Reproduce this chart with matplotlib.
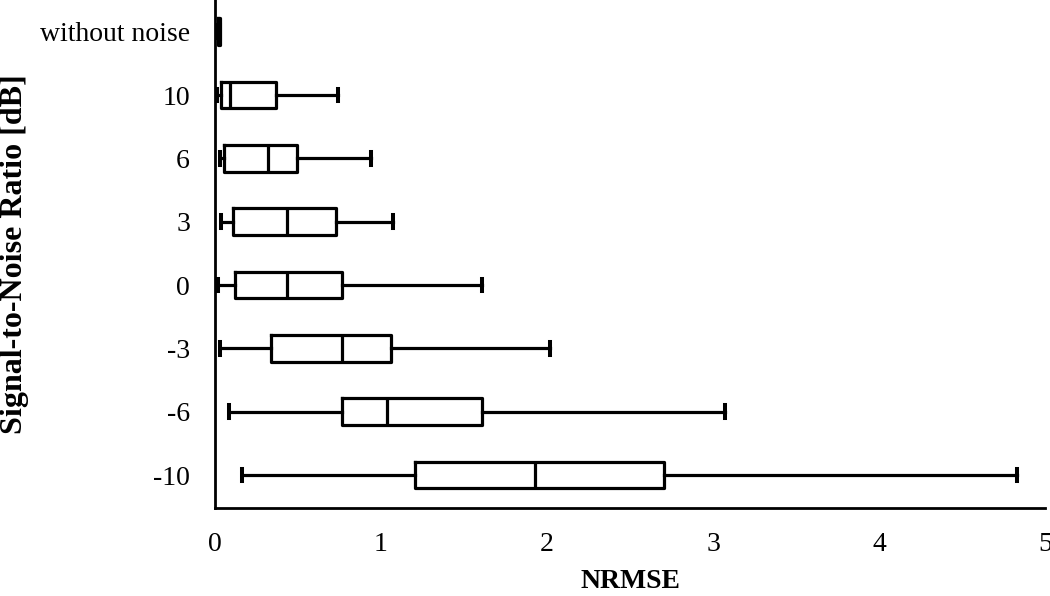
import matplotlib
matplotlib.use("Agg")
import matplotlib.pyplot as plt

plt.rcParams['font.family'] = ['Liberation Serif', 'DejaVu Serif']

categories = ["without noise", "10", "6", "3", "0", "-3", "-6", "-10"]
whislo = [0.018, 0.014, 0.030, 0.034, 0.020, 0.030, 0.086, 0.164]
q1     = [0.018, 0.036, 0.056, 0.110, 0.120, 0.337, 0.767, 1.205]
med    = [0.020, 0.090, 0.317, 0.436, 0.436, 0.765, 1.038, 1.928]
q3     = [0.030, 0.370, 0.496, 0.729, 0.767, 1.060, 1.610, 2.705]
whishi = [0.030, 0.743, 0.938, 1.074, 1.610, 2.018, 3.072, 4.830]
xticks = [0, 1, 2, 3, 4, 5]

stats = []
for i, c in enumerate(categories):
    stats.append(dict(label=c, whislo=whislo[i], q1=q1[i], med=med[i],
                      q3=q3[i], whishi=whishi[i], fliers=[]))

fig = plt.figure(figsize=(10.5, 5.96), dpi=100)
ax = fig.add_axes([215/1050, 1 - 508/596, 830/1050, 508/596])

positions = list(range(len(categories)))
lw = 2.3
ax.bxp(stats, positions=positions, vert=False, widths=0.42,
       showfliers=False, patch_artist=False,
       boxprops=dict(color='black', linewidth=lw),
       medianprops=dict(color='black', linewidth=lw),
       whiskerprops=dict(color='black', linewidth=lw),
       capprops=dict(color='black', linewidth=lw + 0.6),
       capwidths=0.2)

ax.set_ylim(len(categories) - 0.5 + 0.02, -0.5)
ax.set_xlim(0, 5)
ax.set_xticks(xticks)
ax.set_xticklabels([str(t) for t in xticks])
ax.set_yticks(positions)
ax.set_yticklabels(categories)

for s in ['top', 'right']:
    ax.spines[s].set_visible(False)
for s in ['left', 'bottom']:
    ax.spines[s].set_linewidth(2.0)
    ax.spines[s].set_color('black')

ax.tick_params(axis='x', length=0, pad=17, labelsize=20)
ax.tick_params(axis='y', length=0, pad=18, labelsize=20)

ax.set_xlabel("NRMSE", fontsize=20, fontweight='bold')
ax.set_ylabel("Signal-to-Noise Ratio [dB]", fontsize=23, fontweight='bold')
ax.xaxis.set_label_coords(0.5, -0.144)
ax.yaxis.set_label_coords(-0.241, 0.5)
ax.xaxis.label.set_va('center')
ax.yaxis.label.set_va('center')

fig.savefig("out.png", dpi=100)
